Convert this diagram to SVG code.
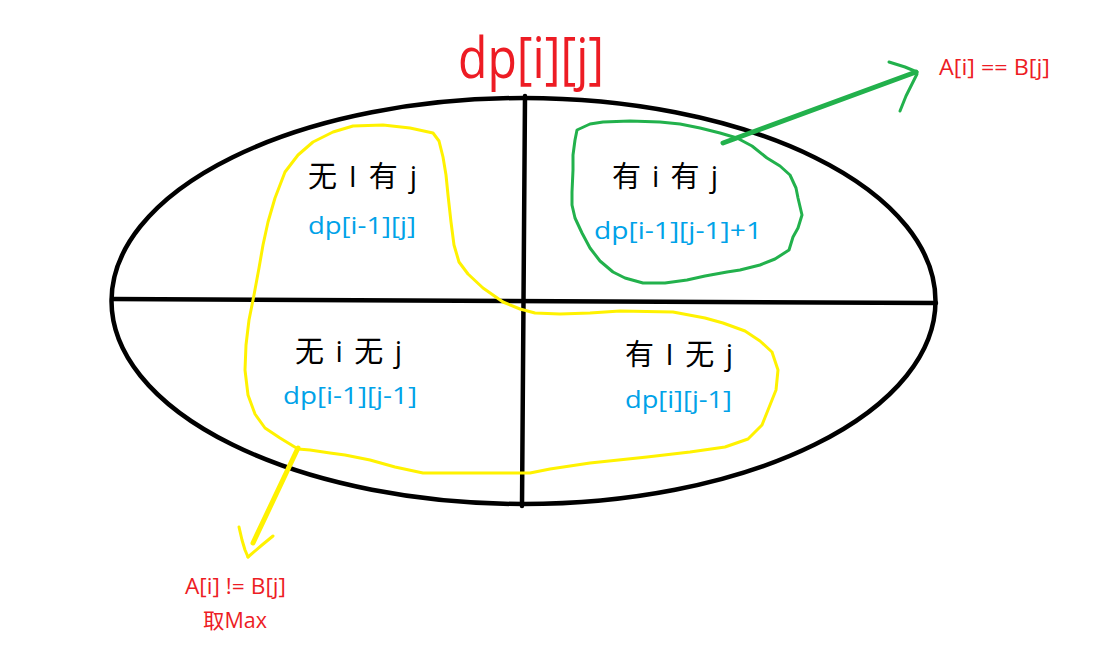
<svg xmlns="http://www.w3.org/2000/svg" width="1095" height="666" viewBox="0 0 1095 666">
  <style>
    .lbl { font-family: "Open Sans", "Noto Sans CJK SC", sans-serif; font-size: 29px; fill: #000000; }
    .eq { font-family: "Open Sans", "Noto Sans CJK SC", sans-serif; font-size: 24px; fill: #00a2e8; }
    .note { font-family: "Open Sans", "Noto Sans CJK SC", sans-serif; font-size: 21px; fill: #ed1c24; }
    .title { font-family: "Open Sans", "Noto Sans CJK SC", sans-serif; font-size: 56px; fill: #ed1c24; }
    .blk { fill: none; stroke: #000000; stroke-width: 4.5; stroke-linecap: round; }
    .yel { fill: none; stroke: #fff200; stroke-linejoin: round; stroke-linecap: round; }
    .grn { fill: none; stroke: #22b14c; stroke-linejoin: round; stroke-linecap: round; }
  </style>
  <rect width="1095" height="666" fill="#ffffff"/>

  <g id="frame">
    <ellipse class="blk" cx="523.5" cy="301" rx="412" ry="203"/>
    <line class="blk" x1="112" y1="299" x2="936" y2="303"/>
    <line class="blk" x1="525" y1="96" x2="522" y2="506"/>
  </g>

  <g id="title">
    <text class="title" x="458" y="78" textLength="146" lengthAdjust="spacingAndGlyphs">dp[i][j]</text>
  </g>

  <g id="groups">
    <polygon id="yellow-region" class="yel" stroke-width="3" points="298,449 280,438 265,428 255,414 248,395 245,370 246,345 249,320 254,295 259,268 263,245 268,222 275,198 285,172 298,155 313,142 333,132 353,126 383,125 410,128 433,133 439,141 443,157 446,175 448,195 451,222 454,245 459,262 468,274 483,288 503,302 520,309 535,313 560,314 590,313 620,311 673,312 705,318 723,323 745,331 760,341 772,352 778,370 776,390 770,405 762,425 748,439 725,447 690,452 647,457 590,463 550,469 530,473 470,473 423,473 395,467 370,460 345,455 330,453 310,450"/>
    <polygon id="green-region" class="grn" stroke-width="3" points="577,130 590,124 603,122 630,121 660,122 680,124 700,128 720,133 737,138 752,146 767,158 780,166 790,175 796,188 798,198 802,215 798,228 793,237 789,250 775,259 760,265 740,270 727,272 705,276 687,280 665,283 643,283 625,278 613,272 600,261 590,248 582,233 575,218 572,205 572,192 573,170 573,155 575,140"/>
  </g>

  <g id="q-top-left">
    <text class="lbl" x="308" y="187" textLength="109" lengthAdjust="spacing">无 I 有 j</text>
    <text class="eq" x="308" y="234" textLength="108" lengthAdjust="spacingAndGlyphs">dp[i-1][j]</text>
  </g>
  <g id="q-top-right">
    <text class="lbl" x="612" y="187" textLength="106" lengthAdjust="spacing">有 i 有 j</text>
    <text class="eq" x="594" y="239" textLength="168" lengthAdjust="spacingAndGlyphs">dp[i-1][j-1]+1</text>
  </g>
  <g id="q-bottom-left">
    <text class="lbl" x="295" y="362" textLength="107" lengthAdjust="spacing">无 i 无 j</text>
    <text class="eq" x="283" y="404" textLength="134" lengthAdjust="spacingAndGlyphs">dp[i-1][j-1]</text>
  </g>
  <g id="q-bottom-right">
    <text class="lbl" x="625" y="365" textLength="108" lengthAdjust="spacing">有 I 无 j</text>
    <text class="eq" x="625" y="408" textLength="107" lengthAdjust="spacingAndGlyphs">dp[i][j-1]</text>
  </g>

  <g id="note-equal">
    <text class="note" x="939" y="75" textLength="111" lengthAdjust="spacingAndGlyphs">A[i] == B[j]</text>
  </g>
  <g id="note-notequal">
    <text class="note" x="185" y="594" textLength="101" lengthAdjust="spacingAndGlyphs">A[i] != B[j]</text>
    <text class="note" x="203" y="628" textLength="64" lengthAdjust="spacingAndGlyphs">取Max</text>
  </g>

  <g id="connectors">
    <line class="grn" stroke-width="5" x1="723" y1="143" x2="916" y2="72"/>
    <polyline class="grn" stroke-width="3" points="889,62 905,67 917,72"/>
    <polyline class="grn" stroke-width="3" points="900,111 906,96 912,84 917,74"/>
    <line class="yel" stroke-width="5" x1="298" y1="448" x2="253" y2="543"/>
    <polyline class="yel" stroke-width="3" points="239,527 242,540 245,550 248,557"/>
    <polyline class="yel" stroke-width="3" points="273,536 262,545 248,557"/>
  </g>
</svg>
